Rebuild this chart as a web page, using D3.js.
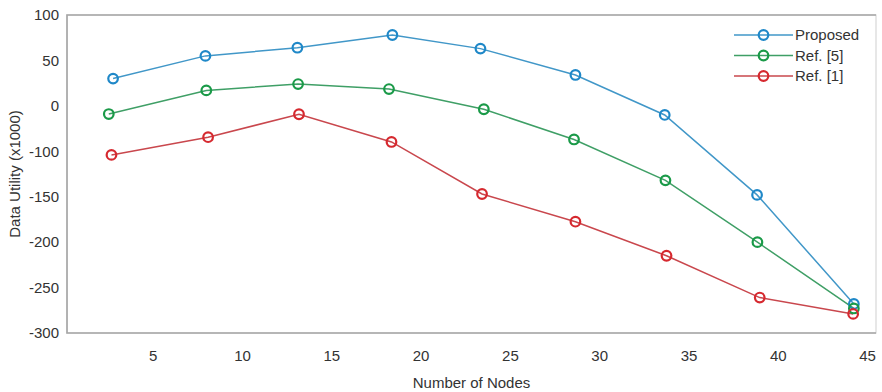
<!DOCTYPE html>
<html>
<head>
<meta charset="utf-8">
<script src="https://cdn.jsdelivr.net/npm/d3@7"></script>
<style>
  body { margin: 0; background: #fff; }
  text { font-family: "Liberation Sans", Arial, sans-serif; fill: #333; }
</style>
</head>
<body>
<div id="chart"></div>
<script>
// values
const seriesNames = ["Proposed", "Ref. [5]", "Ref. [1]"];

const proposedX = [2.78, 7.95, 13.1, 18.42, 23.35, 28.67, 33.67, 38.84, 44.26];
const proposedY = [30, 55, 64, 78, 63, 34, -20, -148, -268];

const ref5X = [2.54, 8.0, 13.14, 18.23, 23.54, 28.59, 33.71, 38.86, 44.26];
const ref5Y = [-18, 17, 24, 18.5, -7.5, -74, -132, -200, -273];

const ref1X = [2.69, 8.1, 13.19, 18.37, 23.44, 28.67, 33.77, 38.99, 44.22];
const ref1Y = [-104, -69, -18.5, -79.5, -147, -177.5, -215, -261, -279];

const xTicks = [5, 10, 15, 20, 25, 30, 35, 40, 45];
// the y axis labels as printed (note the skipped -50)
const yTickLabels = ["100", "50", "0", "-100", "-150", "-200", "-250", "-300"];
const yTickValues = [100, 50, 0, -100, -150, -200, -250, -300];

const width = 882, height = 392;
const margin = {left: 67, right: 6, top: 15, bottom: 59};
const plotBottom = height - margin.bottom;
const step = (plotBottom - margin.top) / 7;

const svg = d3.select("#chart").append("svg")
    .attr("width", width)
    .attr("height", height);

const x = d3.scaleLinear()
    .domain([0.2, 45.5])
    .range([margin.left, width - margin.right]);

// piecewise scale so each printed label sits on an even gridline
const y = d3.scaleLinear()
    .domain([100, 0, -100, -300])
    .range([margin.top, margin.top + 2 * step, margin.top + 3 * step, plotBottom]);

// frame
svg.append("rect")
    .attr("x", margin.left)
    .attr("y", margin.top)
    .attr("width", width - margin.right - margin.left)
    .attr("height", plotBottom - margin.top)
    .attr("fill", "none")
    .attr("stroke", "#d8d8d8")
    .attr("stroke-width", 1.2);

svg.append("path")
    .attr("d", `M${width - margin.right},${margin.top}H${margin.left}V${plotBottom}H${width - margin.right}`)
    .attr("fill", "none")
    .attr("stroke", "#a6a6a6")
    .attr("stroke-width", 1.6);

// axes (labels only, no tick marks)
const xAxis = svg.append("g")
    .attr("transform", `translate(0,${plotBottom})`)
    .call(d3.axisBottom(x).tickValues(xTicks).tickSize(0).tickPadding(17));
xAxis.select(".domain").remove();
xAxis.selectAll("text")
    .style("font-size", "15px")
    .style("font-family", "'Liberation Sans', Arial, sans-serif")
    .attr("fill", "#333");

const yAxis = svg.append("g")
    .attr("transform", `translate(${margin.left},0)`)
    .call(d3.axisLeft(y).tickValues(yTickValues).tickSize(0).tickPadding(8)
      .tickFormat((d, i) => yTickLabels[i]));
yAxis.select(".domain").remove();
yAxis.selectAll("text")
    .style("font-size", "15px")
    .style("font-family", "'Liberation Sans', Arial, sans-serif")
    .attr("fill", "#333");

svg.append("text")
    .attr("x", (margin.left + width - margin.right) / 2)
    .attr("y", 388)
    .attr("text-anchor", "middle")
    .style("font-size", "15px")
    .text("Number of Nodes");

svg.append("text")
    .attr("transform", `translate(20,${(margin.top + plotBottom) / 2}) rotate(-90)`)
    .attr("text-anchor", "middle")
    .style("font-size", "15px")
    .text("Data Utility (x1000)");

const series = [
  {name: seriesNames[0], xs: proposedX, ys: proposedY, line: "#4197c8", mark: "#1f88c8"},
  {name: seriesNames[1], xs: ref5X, ys: ref5Y, line: "#3f9f66", mark: "#1a9a48"},
  {name: seriesNames[2], xs: ref1X, ys: ref1Y, line: "#c9474d", mark: "#d6292f"}
];

const line = d3.line().x(d => x(d[0])).y(d => y(d[1]));

series.forEach(s => {
  const pts = s.xs.map((v, i) => [v, s.ys[i]]);
  svg.append("path")
      .datum(pts)
      .attr("d", line)
      .attr("fill", "none")
      .attr("stroke", s.line)
      .attr("stroke-width", 1.5);
});

series.forEach(s => {
  const pts = s.xs.map((v, i) => [v, s.ys[i]]);
  svg.append("g").selectAll("circle")
    .data(pts)
    .join("circle")
      .attr("cx", d => x(d[0]))
      .attr("cy", d => y(d[1]))
      .attr("r", 4.8)
      .attr("fill", "none")
      .attr("stroke", s.mark)
      .attr("stroke-width", 2.2);
});

// legend
const legend = svg.append("g").attr("transform", "translate(734,35)");
series.forEach((s, i) => {
  const g = legend.append("g").attr("transform", `translate(0,${i * 20.5})`);
  g.append("line")
      .attr("x1", 0).attr("x2", 59)
      .attr("stroke", s.line)
      .attr("stroke-width", 1.5);
  g.append("circle")
      .attr("cx", 29.5).attr("r", 4.8)
      .attr("fill", "none")
      .attr("stroke", s.mark)
      .attr("stroke-width", 2.2);
  g.append("text")
      .attr("x", 61)
      .attr("dy", "0.35em")
      .style("font-size", "15px")
      .text(s.name);
});
</script>
</body>
</html>
